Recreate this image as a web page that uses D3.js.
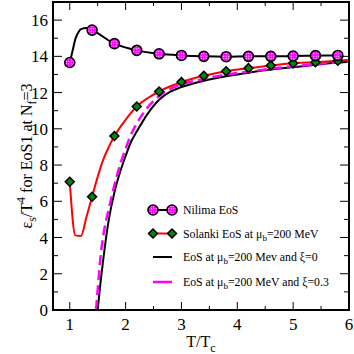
<!DOCTYPE html>
<html>
<head>
<meta charset="utf-8">
<script src="https://cdn.jsdelivr.net/npm/d3@7"></script>
<style>
  body { margin: 0; background: #fff; }
  text { font-family: "Liberation Serif", "Times New Roman", serif; fill: #000; }
</style>
</head>
<body>
<div id="vis"></div>
<script>
// chart size
const width = 354, height = 354;
const margin = {top: 2, right: 5, bottom: 44, left: 53};

// Nilima EoS (line and markers)
const nilimaT = [1.0, 1.05, 1.1, 1.15, 1.2, 1.3, 1.4, 1.8, 2.2, 2.6, 3.0, 3.4, 3.8, 4.2, 4.6, 5.0, 5.4, 5.8];
const nilimaE = [13.66, 14.3, 14.95, 15.3, 15.5, 15.57, 15.45, 14.7, 14.33, 14.14, 14.05, 14.0, 13.98, 14.0, 14.0, 14.02, 14.04, 14.05];
const nilimaMarkT = [1.0, 1.4, 1.8, 2.2, 2.6, 3.0, 3.4, 3.8, 4.2, 4.6, 5.0, 5.4, 5.8];

// Solanki EoS at mu_b = 200 MeV
const solankiT = [1.0, 1.1, 1.2, 1.3, 1.4, 1.5, 1.6, 1.7, 1.8, 2.0, 2.2, 2.4, 2.6, 2.8, 3.0, 3.4, 3.8, 4.2, 4.6, 5.0, 5.4, 5.8, 6.0];
const solankiE = [7.08, 4.12, 4.08, 5.15, 6.25, 7.35, 8.3, 9.0, 9.6, 10.5, 11.23, 11.7, 12.06, 12.35, 12.58, 12.93, 13.18, 13.35, 13.5, 13.62, 13.68, 13.76, 13.8];
const solankiMarkT = [1.0, 1.4, 1.8, 2.2, 2.6, 3.0, 3.4, 3.8, 4.2, 4.6, 5.0, 5.4, 5.8];

// EoS at mu_b = 200 MeV, xi = 0
const xi0T = [1.5, 1.55, 1.6, 1.7, 1.8, 1.9, 2.0, 2.1, 2.2, 2.4, 2.6, 2.8, 3.0, 3.4, 3.8, 4.2, 4.6, 5.0, 5.5, 6.0];
const xi0E = [0, 1.5, 2.8, 5.0, 6.5, 7.6, 8.5, 9.3, 9.85, 10.85, 11.6, 12.05, 12.3, 12.65, 12.9, 13.1, 13.27, 13.4, 13.57, 13.7];

// EoS at mu_b = 200 MeV, xi = 0.3
const xi03T = [1.47, 1.5, 1.55, 1.6, 1.7, 1.8, 1.9, 2.0, 2.1, 2.2, 2.4, 2.6, 2.8, 3.0, 3.4, 3.8, 4.2, 4.6, 5.0, 5.5, 6.0];
const xi03E = [0, 1.1, 2.9, 4.1, 5.6, 6.9, 8.0, 8.9, 9.7, 10.3, 11.2, 11.8, 12.2, 12.45, 12.75, 13.0, 13.15, 13.32, 13.45, 13.6, 13.72];

const xTicks = [1, 2, 3, 4, 5, 6];
const yTicks = [0, 2, 4, 6, 8, 10, 12, 14, 16];

const legendLabels = ["Nilima EoS", "Solanki EoS at μ|b|=200 MeV", "EoS at μ|b|=200 Mev and ξ=0", "EoS at μ|b|=200 MeV and ξ=0.3"];

const svg = d3.select("#vis").append("svg")
    .attr("width", width)
    .attr("height", height);

const x = d3.scaleLinear().domain([0.7, 6]).range([margin.left, width - margin.right]);
const y = d3.scaleLinear().domain([0, 17]).range([height - margin.bottom, margin.top]);

// dotted magenta fill for the circles
const defs = svg.append("defs");
const pat = defs.append("pattern").attr("id", "dots")
    .attr("width", 2.5).attr("height", 2.5).attr("patternUnits", "userSpaceOnUse");
pat.append("rect").attr("width", 2.5).attr("height", 2.5).attr("fill", "#ff00ff");
pat.append("circle").attr("cx", 1.25).attr("cy", 1.25).attr("r", 0.6).attr("fill", "#ffffff");
defs.append("clipPath").attr("id", "clip").append("rect")
    .attr("x", margin.left).attr("y", margin.top)
    .attr("width", width - margin.left - margin.right)
    .attr("height", height - margin.top - margin.bottom);

const zip = (xs, ys) => xs.map((v, i) => [v, ys[i]]);
const line = d3.line().x(d => x(d[0])).y(d => y(d[1])).curve(d3.curveMonotoneX);

const plot = svg.append("g").attr("clip-path", "url(#clip)");

plot.append("path").attr("d", line(zip(xi0T, xi0E)))
    .attr("fill", "none").attr("stroke", "#000").attr("stroke-width", 2);
plot.append("path").attr("d", line(zip(xi03T, xi03E)))
    .attr("fill", "none").attr("stroke", "#ff00ff").attr("stroke-width", 2.5)
    .attr("stroke-dasharray", "10,5");
plot.append("path").attr("d", line(zip(solankiT, solankiE)))
    .attr("fill", "none").attr("stroke", "#ff0000").attr("stroke-width", 2);
plot.append("path").attr("d", line(zip(nilimaT, nilimaE)))
    .attr("fill", "none").attr("stroke", "#000").attr("stroke-width", 2);

const diamond = d3.symbol().type(d3.symbolSquare).size(40);

function drawCircle(g, cx, cy) {
    g.append("circle").attr("cx", cx).attr("cy", cy).attr("r", 5)
        .attr("fill", "url(#dots)").attr("stroke", "#000").attr("stroke-width", 1.6);
}
function drawDiamond(g, cx, cy) {
    g.append("path").attr("d", diamond())
        .attr("transform", `translate(${cx},${cy}) rotate(45)`)
        .attr("fill", "#008800").attr("stroke", "#000").attr("stroke-width", 1.5);
}

solankiMarkT.forEach(t => drawDiamond(plot, x(t), y(solankiE[solankiT.indexOf(t)])));
nilimaMarkT.forEach(t => drawCircle(plot, x(t), y(nilimaE[nilimaT.indexOf(t)])));

// axes: ticks inward on all sides
const x0 = margin.left, x1 = width - margin.right, y0 = height - margin.bottom, y1 = margin.top;
const axes = svg.append("g").attr("stroke", "#000");
d3.range(1, 6.01, 0.5).forEach(t => {
    const major = Math.abs(t - Math.round(t)) < 1e-6;
    const len = major ? 8 : 4;
    axes.append("line").attr("x1", x(t)).attr("x2", x(t)).attr("y1", y0).attr("y2", y0 - len).attr("stroke-width", 1);
    axes.append("line").attr("x1", x(t)).attr("x2", x(t)).attr("y1", y1).attr("y2", y1 + len).attr("stroke-width", 1);
});
d3.range(0, 17.01, 1).forEach(v => {
    const major = v % 2 === 0;
    const len = major ? 9 : 5;
    axes.append("line").attr("y1", y(v)).attr("y2", y(v)).attr("x1", x0).attr("x2", x0 + len).attr("stroke-width", 1);
    axes.append("line").attr("y1", y(v)).attr("y2", y(v)).attr("x1", x1).attr("x2", x1 - len).attr("stroke-width", 1);
});
svg.append("rect").attr("x", x0).attr("y", y1).attr("width", x1 - x0).attr("height", y0 - y1)
    .attr("fill", "none").attr("stroke", "#000").attr("stroke-width", 2);

svg.selectAll(".xt").data(xTicks).enter().append("text")
    .attr("x", d => x(d)).attr("y", y0 + 20)
    .attr("text-anchor", "middle").attr("font-size", 17).text(d => d);
svg.selectAll(".yt").data(yTicks).enter().append("text")
    .attr("x", x0 - 5).attr("y", d => y(d) + 6)
    .attr("text-anchor", "end").attr("font-size", 17).text(d => d);

// axis titles
const xl = svg.append("text").attr("x", (x0 + x1) / 2).attr("y", y0 + 37)
    .attr("text-anchor", "middle").attr("font-size", 16);
xl.append("tspan").text("T/T");
xl.append("tspan").attr("font-size", 12).attr("dy", 5).text("c");

const yl = svg.append("text").attr("transform", `translate(32,${(y0 + y1) / 2}) rotate(-90)`)
    .attr("text-anchor", "middle").attr("font-size", 16);
yl.append("tspan").text("ε");
yl.append("tspan").attr("font-size", 12).attr("dy", 4).text("s");
yl.append("tspan").attr("dy", -4).text("/T");
yl.append("tspan").attr("font-size", 12).attr("dy", -7).text("4");
yl.append("tspan").attr("dy", 7).text(" for EoS1 at N");
yl.append("tspan").attr("font-size", 12).attr("dy", 4).text("f");
yl.append("tspan").attr("dy", -4).text("=3");

// legend
const legY = [210, 233.5, 257, 282];
const lx0 = 153, lx1 = 172, tx = 183;
const leg = svg.append("g");
leg.append("line").attr("x1", lx0).attr("x2", lx1).attr("y1", legY[0]).attr("y2", legY[0]).attr("stroke", "#000").attr("stroke-width", 2);
drawCircle(leg, lx0, legY[0]); drawCircle(leg, lx1, legY[0]);
leg.append("line").attr("x1", lx0).attr("x2", lx1).attr("y1", legY[1]).attr("y2", legY[1]).attr("stroke", "#ff0000").attr("stroke-width", 2);
drawDiamond(leg, lx0, legY[1]); drawDiamond(leg, lx1, legY[1]);
leg.append("line").attr("x1", lx0).attr("x2", lx1).attr("y1", legY[2]).attr("y2", legY[2]).attr("stroke", "#000").attr("stroke-width", 2);
leg.append("line").attr("x1", lx0).attr("x2", lx1).attr("y1", legY[3]).attr("y2", legY[3]).attr("stroke", "#ff00ff").attr("stroke-width", 2.5);

legendLabels.forEach((lab, i) => {
    const t = leg.append("text").attr("x", tx).attr("y", legY[i] + 4).attr("font-size", 11.8);
    const parts = lab.split("|");
    t.append("tspan").text(parts[0]);
    if (parts.length > 1) {
        t.append("tspan").attr("font-size", 9).attr("dy", 3).text(parts[1]);
        t.append("tspan").attr("dy", -3).text(parts[2]);
    }
});
</script>
</body>
</html>
